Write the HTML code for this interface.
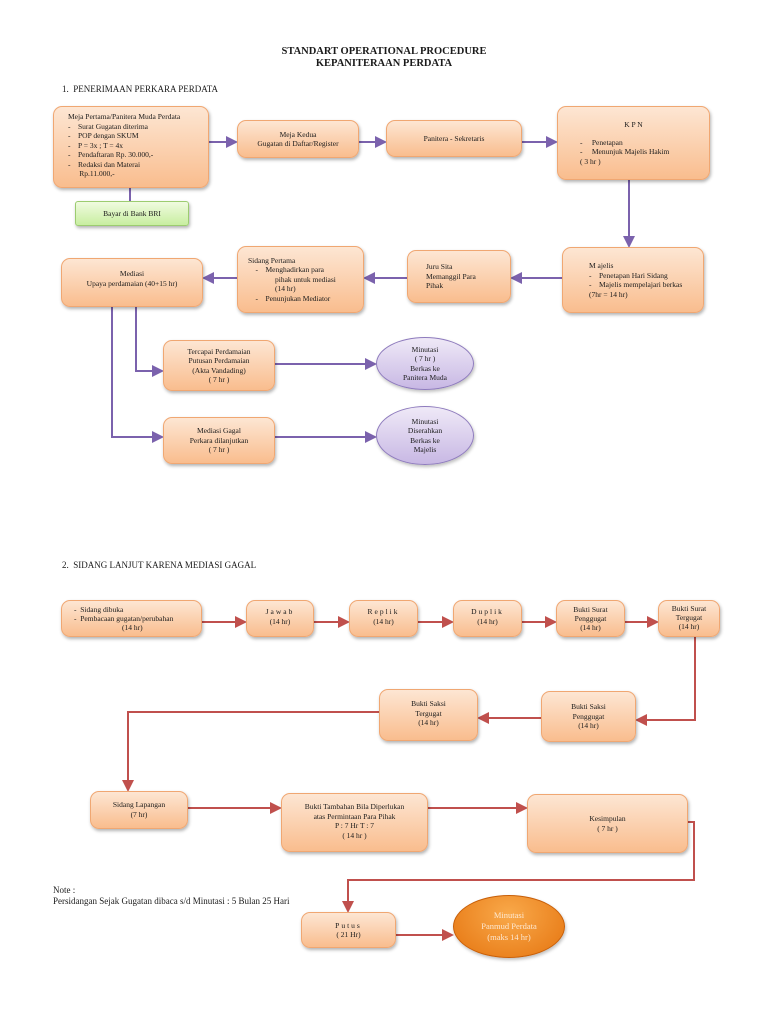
<!DOCTYPE html>
<html><head><meta charset="utf-8"><style>
body{margin:0;width:768px;height:1024px;background:#fff;position:relative;overflow:hidden;font-family:"Liberation Serif",serif;color:#1a1a1a}
.b{position:absolute;box-sizing:border-box;background:linear-gradient(#fde6d3,#f9bd8e);border:1px solid #f0a772;border-radius:9px;box-shadow:1px 2px 3px rgba(0,0,0,.3);font-size:7.5px;line-height:9.5px;text-align:center;display:flex;flex-direction:column;justify-content:center}
.l{text-align:left}
.g{background:linear-gradient(#f0fbe0,#c8eea0);border-color:#9ccc70;border-radius:3px}
.e{position:absolute;box-sizing:border-box;border-radius:50%;background:linear-gradient(#efe9f7,#c8b8e4);border:1px solid #8e7bbd;font-size:7.5px;line-height:9.5px;text-align:center;display:flex;flex-direction:column;justify-content:center;box-shadow:1px 2px 3px rgba(0,0,0,.25)}
.t{position:absolute;font-size:9px;white-space:nowrap}
svg{position:absolute;left:0;top:0}
</style></head><body>
<div class="t" style="left:0;width:768px;top:46px;text-align:center;font-weight:bold;font-size:10.5px;line-height:12px">STANDART OPERATIONAL PROCEDURE<br>KEPANITERAAN PERDATA</div>
<div class="t" style="left:62px;top:84px">1.&nbsp;&nbsp;PENERIMAAN PERKARA PERDATA</div>
<div class="t" style="left:62px;top:560px">2.&nbsp;&nbsp;SIDANG LANJUT KARENA MEDIASI GAGAL</div>
<div class="t" style="left:53px;top:885px;line-height:11px">Note :<br>Persidangan Sejak Gugatan dibaca s/d Minutasi : 5 Bulan 25 Hari</div>

<svg width="768" height="1024">
<defs>
<marker id="p" markerWidth="6" markerHeight="6" refX="5" refY="3" orient="auto"><path d="M0,0L6,3L0,6z" fill="#7b62ad"/></marker>
<marker id="r" markerWidth="6" markerHeight="6" refX="5" refY="3" orient="auto"><path d="M0,0L6,3L0,6z" fill="#c0504d"/></marker>
</defs>
<g stroke="#7b62ad" stroke-width="2" fill="none" marker-end="url(#p)">
<line x1="209" y1="142" x2="236" y2="142"/>
<line x1="359" y1="142" x2="385" y2="142"/>
<line x1="522" y1="142" x2="556" y2="142"/>
<line x1="629" y1="180" x2="629" y2="246"/>
<line x1="562" y1="278" x2="512" y2="278"/>
<line x1="407" y1="278" x2="365" y2="278"/>
<line x1="237" y1="278" x2="204" y2="278"/>
<polyline points="136,307 136,371 162,371"/>
<polyline points="112,307 112,437 162,437"/>
<line x1="275" y1="364" x2="375" y2="364"/>
<line x1="275" y1="437" x2="375" y2="437"/>
</g>
<line x1="130" y1="188" x2="130" y2="201" stroke="#7b62ad" stroke-width="2"/>
<g stroke="#c0504d" stroke-width="2" fill="none" marker-end="url(#r)">
<line x1="202" y1="622" x2="245" y2="622"/>
<line x1="314" y1="622" x2="348" y2="622"/>
<line x1="418" y1="622" x2="452" y2="622"/>
<line x1="522" y1="622" x2="555" y2="622"/>
<line x1="625" y1="622" x2="657" y2="622"/>
<polyline points="695,637 695,720 637,720"/>
<line x1="541" y1="718" x2="479" y2="718"/>
<polyline points="379,712 128,712 128,790"/>
<line x1="188" y1="808" x2="280" y2="808"/>
<line x1="428" y1="808" x2="526" y2="808"/>
<polyline points="688,822 694,822 694,880 348,880 348,911"/>
<line x1="396" y1="935" x2="452" y2="935"/>
</g>
</svg>

<div class="b l" style="left:53px;top:106px;width:156px;height:82px;padding-left:14px;justify-content:flex-start;padding-top:5px">
<div>Meja Pertama/Panitera Muda Perdata</div>
<div>-&nbsp;&nbsp;&nbsp;&nbsp;Surat Gugatan diterima</div>
<div>-&nbsp;&nbsp;&nbsp;&nbsp;POP dengan SKUM</div>
<div>-&nbsp;&nbsp;&nbsp;&nbsp;P = 3x ; T = 4x</div>
<div>-&nbsp;&nbsp;&nbsp;&nbsp;Pendaftaran Rp. 30.000,-</div>
<div>-&nbsp;&nbsp;&nbsp;&nbsp;Redaksi dan Materai</div>
<div>&nbsp;&nbsp;&nbsp;&nbsp;&nbsp;&nbsp;Rp.11.000,-</div></div>
<div class="b g" style="left:75px;top:201px;width:114px;height:25px">Bayar di Bank BRI</div>
<div class="b" style="left:237px;top:120px;width:122px;height:38px">Meja Kedua<br>Gugatan di Daftar/Register</div>
<div class="b" style="left:386px;top:120px;width:136px;height:37px">Panitera - Sekretaris</div>
<div class="b l" style="left:557px;top:106px;width:153px;height:74px;padding-left:22px">
<div style="text-align:center;margin-left:-22px;margin-bottom:8px">K P N</div>
<div>-&nbsp;&nbsp;&nbsp;&nbsp;&nbsp;Penetapan</div>
<div>-&nbsp;&nbsp;&nbsp;&nbsp;&nbsp;Menunjuk Majelis Hakim</div>
<div>( 3 hr )</div></div>
<div class="b l" style="left:562px;top:247px;width:142px;height:66px;padding-left:26px">
<div>M ajelis</div>
<div>-&nbsp;&nbsp;&nbsp;&nbsp;Penetapan Hari Sidang</div>
<div>-&nbsp;&nbsp;&nbsp;&nbsp;Majelis mempelajari berkas</div>
<div>(7hr = 14 hr)</div></div>
<div class="b l" style="left:407px;top:250px;width:104px;height:53px;padding-left:18px">Juru Sita<br>Memanggil Para<br>Pihak</div>
<div class="b l" style="left:237px;top:246px;width:127px;height:67px;padding-left:10px">
<div>Sidang Pertama</div>
<div>&nbsp;&nbsp;&nbsp;&nbsp;-&nbsp;&nbsp;&nbsp;&nbsp;Menghadirkan para</div>
<div style="padding-left:27px">pihak untuk mediasi</div>
<div style="padding-left:27px">(14 hr)</div>
<div>&nbsp;&nbsp;&nbsp;&nbsp;-&nbsp;&nbsp;&nbsp;&nbsp;Penunjukan Mediator</div></div>
<div class="b" style="left:61px;top:258px;width:142px;height:49px;justify-content:flex-start;padding-top:10px">Mediasi<br>Upaya perdamaian (40+15 hr)</div>
<div class="b" style="left:163px;top:340px;width:112px;height:51px">Tercapai Perdamaian<br>Putusan Perdamaian<br>(Akta Vandading)<br>( 7 hr )</div>
<div class="b" style="left:163px;top:417px;width:112px;height:47px">Mediasi Gagal<br>Perkara dilanjutkan<br>( 7 hr )</div>
<div class="e" style="left:376px;top:337px;width:98px;height:53px">Minutasi<br>( 7 hr )<br>Berkas ke<br>Panitera Muda</div>
<div class="e" style="left:376px;top:406px;width:98px;height:59px">Minutasi<br>Diserahkan<br>Berkas ke<br>Majelis</div>

<div class="b l" style="left:61px;top:600px;width:141px;height:37px;padding-left:12px;line-height:9px">
<div>-&nbsp;&nbsp;Sidang dibuka</div><div>-&nbsp;&nbsp;Pembacaan gugatan/perubahan</div><div style="padding-left:48px">(14 hr)</div></div>
<div class="b" style="left:246px;top:600px;width:68px;height:37px;justify-content:flex-start;padding-top:6px"><span style="letter-spacing:2px">Jawab</span>(14 hr)</div>
<div class="b" style="left:349px;top:600px;width:69px;height:37px;justify-content:flex-start;padding-top:6px"><span style="letter-spacing:2px">Replik</span>(14 hr)</div>
<div class="b" style="left:453px;top:600px;width:69px;height:37px;justify-content:flex-start;padding-top:6px"><span style="letter-spacing:2px">Duplik</span>(14 hr)</div>
<div class="b" style="left:556px;top:600px;width:69px;height:37px;line-height:9px">Bukti Surat<br>Penggugat<br>(14 hr)</div>
<div class="b" style="left:658px;top:600px;width:62px;height:37px;line-height:9px;justify-content:flex-start;padding-top:3px">Bukti Surat<br>Tergugat<br>(14 hr)</div>
<div class="b" style="left:379px;top:689px;width:99px;height:52px;justify-content:flex-start;padding-top:9px">Bukti Saksi<br>Tergugat<br>(14 hr)</div>
<div class="b" style="left:541px;top:691px;width:95px;height:51px">Bukti Saksi<br>Penggugat<br>(14 hr)</div>
<div class="b" style="left:90px;top:791px;width:98px;height:38px;justify-content:flex-start;padding-top:8px">Sidang Lapangan<br>(7 hr)</div>
<div class="b" style="left:281px;top:793px;width:147px;height:59px;justify-content:flex-start;padding-top:8px">Bukti Tambahan Bila Diperlukan<br>atas Permintaan Para Pihak<br>P : 7 Hr T : 7<br>( 14 hr )</div>
<div class="b" style="left:527px;top:794px;width:161px;height:59px">Kesimpulan<br>( 7 hr )</div>
<div class="b" style="left:301px;top:912px;width:95px;height:36px"><span style="letter-spacing:2px">Putus</span>( 21 Hr)</div>
<div class="e" style="left:453px;top:895px;width:112px;height:63px;background:radial-gradient(ellipse at 50% 30%,#f9a94a,#e5740f);border-color:#c85f08;color:#fde8d0;font-size:8.5px;line-height:11px">Minutasi<br>Panmud Perdata<br>(maks 14 hr)</div>
</body></html>
